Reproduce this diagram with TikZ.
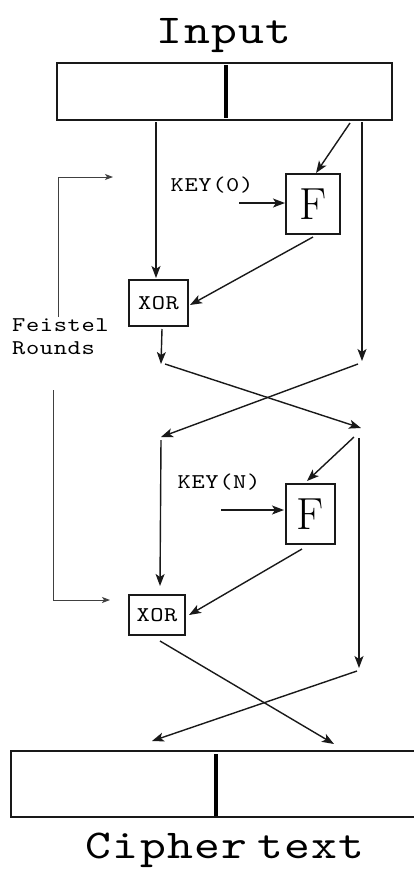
\documentclass[tikz,border=0pt]{standalone}
\usepackage{fontspec}
\setmonofont{lmmono10-regular.otf}[FakeStretch=1.2, LetterSpace=3]
\usetikzlibrary{arrows.meta}
\newcommand{\monofont}[1]{\ttfamily\fontsize{#1}{#1}\selectfont}
\newcommand{\monofontls}[2]{\ttfamily\fontsize{#1}{#2}\selectfont}
\begin{document}
\begin{tikzpicture}[x=1pt,y=-1pt,
  line/.style={line width=1.4pt, draw=black!90},
  arr/.style={line, -{Stealth[length=12pt,width=9pt,inset=3pt]}},
  bracket/.style={line width=0.9pt, draw=black!75},
  barr/.style={bracket, -{Stealth[length=8pt,width=6pt,inset=2pt]}},
  blk/.style={draw=black!90, line width=1.2pt, inner sep=0pt, anchor=center},
  divider/.style={line width=3.2pt, draw=black},
  title/.style={font=\monofont{41}, anchor=base, inner sep=0pt},
  keylbl/.style={font=\monofont{21}, anchor=base, inner sep=0pt},
  xorlbl/.style={blk, font=\monofont{21}},
  flbl/.style={blk, font=\fontsize{45}{45}\selectfont}
]
\useasboundingbox (0,0) rectangle (414,871);
\clip (0,0) rectangle (414,871);

% plaintext block and title
\node[title] (intitle) at (224,43) {Input};
\node[blk, minimum width=335pt, minimum height=57pt] (in) at (224.5,91.5) {};
\coordinate (indivA) at (226,65);
\coordinate (indivB) at (226,118);
\draw[divider] (indivA) -- (indivB);

% ---- round 0 ----
\node[flbl, minimum width=54pt, minimum height=60pt] (f1) at (313,204) {F};
\node[xorlbl, minimum width=59pt, minimum height=46pt] (x1) at (158.5,303) {XOR};
\node[keylbl] (k1) at (212,191) {KEY(0)};

\coordinate (l1top) at (156,122);
\coordinate (l1end) at (156,278);
\coordinate (r1top) at (362,122);
\coordinate (r1end) at (362,361);
\coordinate (f1in) at (350,123);
\coordinate (f1inT) at (316,173);
\coordinate (k1a) at (239,203);
\coordinate (k1b) at (285,203);
\coordinate (f1out) at (313,237);
\coordinate (x1in) at (190,305);
\coordinate (x1out) at (162,329);
\coordinate (x1end) at (161,364);

\draw[arr] (l1top) -- (l1end);
\draw[arr] (r1top) -- (r1end);
\draw[arr] (f1in) -- (f1inT);
\draw[arr] (k1a) -- (k1b);
\draw[arr] (f1out) -- (x1in);
\draw[arr] (x1out) -- (x1end);

% swap of halves
\coordinate (s1a) at (165,364);
\coordinate (s1b) at (361,428);
\coordinate (s1c) at (358,364);
\coordinate (s1d) at (161,437);
\draw[arr] (s1a) -- (s1b);
\draw[arr] (s1c) -- (s1d);

% ---- round N ----
\node[flbl, minimum width=49pt, minimum height=60pt] (f2) at (310.5,514) {F};
\node[xorlbl, minimum width=56pt, minimum height=40pt] (x2) at (157,615) {XOR};
\node[keylbl] (k2) at (219,488) {KEY(N)};

\coordinate (l2top) at (161,440);
\coordinate (l2end) at (160,586);
\coordinate (r2top) at (359,438);
\coordinate (r2end) at (359,668);
\coordinate (f2in) at (354,437);
\coordinate (f2inT) at (307,481);
\coordinate (k2a) at (221,510);
\coordinate (k2b) at (284,510);
\coordinate (f2out) at (302,549);
\coordinate (x2in) at (189,615);

\draw[arr] (l2top) -- (l2end);
\draw[arr] (r2top) -- (r2end);
\draw[arr] (f2in) -- (f2inT);
\draw[arr] (k2a) -- (k2b);
\draw[arr] (f2out) -- (x2in);

% final swap into the output block
\coordinate (s2a) at (160,641);
\coordinate (s2b) at (334,744);
\coordinate (s2c) at (357,671);
\coordinate (s2d) at (152,741);
\draw[arr] (s2a) -- (s2b);
\draw[arr] (s2c) -- (s2d);

% ciphertext block and title
\node[blk, minimum width=409pt, minimum height=66pt] (out) at (215.5,784) {};
\coordinate (outdivA) at (216,754);
\coordinate (outdivB) at (216,816);
\draw[divider] (outdivA) -- (outdivB);
\node[title] (outtitle) at (225,858) {\spaceskip=10pt Cipher text};

% Feistel rounds bracket
\node[font=\monofontls{21}{23}, anchor=base west, inner sep=0pt, align=left] (rounds) at (12,354) {Feistel\\Rounds};
\coordinate (bTopEnd) at (113,177);
\coordinate (bTopCorner) at (58,177);
\coordinate (bTopFoot) at (58,317);
\coordinate (bBotFoot) at (53,390);
\coordinate (bBotCorner) at (53,600);
\coordinate (bBotEnd) at (110,600);
\draw[barr] (bTopFoot) -- (bTopCorner) -- (bTopEnd);
\draw[barr] (bBotFoot) -- (bBotCorner) -- (bBotEnd);
\end{tikzpicture}
\end{document}
